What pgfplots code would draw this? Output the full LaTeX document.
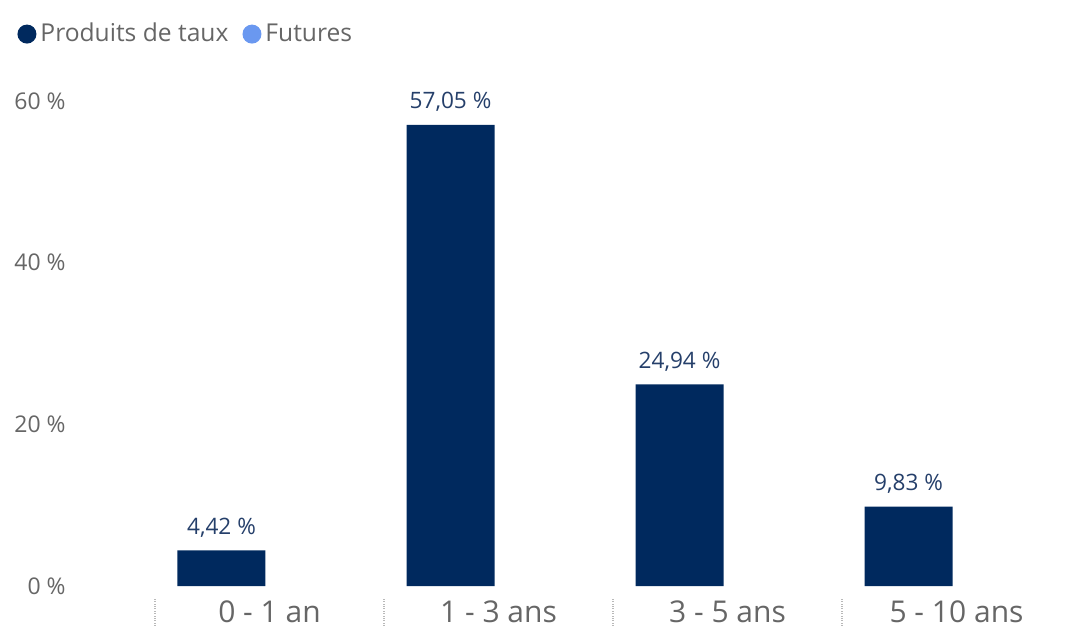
\documentclass[border=0pt]{standalone}
\usepackage{pgfplots}
\pgfplotsset{compat=1.18}
\usepackage{fontspec}
\setmainfont{Open Sans}

\definecolor{navy}{RGB}{0,41,94}
\definecolor{futblue}{RGB}{106,152,240}
\definecolor{txtgray}{RGB}{102,102,102}
\definecolor{lblnavy}{RGB}{37,63,106}

\begin{document}
\begin{tikzpicture}
% page frame: 1 px of the layout = 0.5pt, axis box corner at the origin
\useasboundingbox (-77.5pt,-20.5pt) rectangle (455pt,293pt);
\begin{axis}[
  at={(0,0)}, anchor=south west,
  scale only axis,
  width=455pt, height=242.5pt,
  xmin=-0.5, xmax=3.4738,
  ymin=0, ymax=60,
  clip=false,
  axis line style={draw=none},
  ybar, bar width=44pt,
  xtick={0,1,2,3},
  xtick pos=lower, ytick pos=left,
  xticklabels={0 - 1 an, 1 - 3 ans, 3 - 5 ans, 5 - 10 ans},
  major tick length=0pt,
  xticklabel style={font=\fontsize{15}{18}\selectfont, text=txtgray, anchor=center, yshift=-13pt},
  ytick={0,20,40,60},
  yticklabel={\pgfmathprintnumber{\tick}~\%},
  yticklabel style={font=\fontsize{11.5}{14}\selectfont, text=txtgray, anchor=east, inner sep=0pt, xshift=-44.5pt},
  /pgf/number format/assume math mode=true,
  extra x ticks={-0.5,0.5,1.5,2.5},
  extra x tick labels={},
  extra x tick style={
    major tick length=15pt, tick align=outside, xtick pos=lower,
    tick style={draw=gray!55, densely dotted, line width=0.6pt, yshift=-6pt}},
  legend columns=2,
  legend style={draw=none, fill=none, at={(-0.1516,1.138)}, anchor=west,
    font=\fontsize{12.3}{15}\selectfont, text=txtgray, inner sep=0pt,
    /tikz/every even column/.append style={column sep=5pt}},
  legend image code/.code={\fill[#1] (0.25em,0) circle (4.75pt);},
  legend cell align=left,
]
\addplot[fill=navy, draw=none, bar shift=-24pt,
  nodes near coords={\pgfmathprintnumber[fixed,fixed zerofill,precision=2,use comma]{\pgfplotspointmeta}~\%},
  every node near coord/.append style={font=\fontsize{11.3}{14}\selectfont, text=lblnavy, yshift=3pt}]
  coordinates {(0,4.42) (1,57.05) (2,24.94) (3,9.83)};
\addlegendentry{Produits de taux}
% Futures are all zero, so their bars have no height
\addplot[fill=futblue, draw=none, fill opacity=0, bar shift=24pt, forget plot]
  coordinates {(0,0) (1,0) (2,0) (3,0)};
\addlegendimage{fill=futblue, draw=none}
\addlegendentry{Futures}
\end{axis}
\end{tikzpicture}
\end{document}
